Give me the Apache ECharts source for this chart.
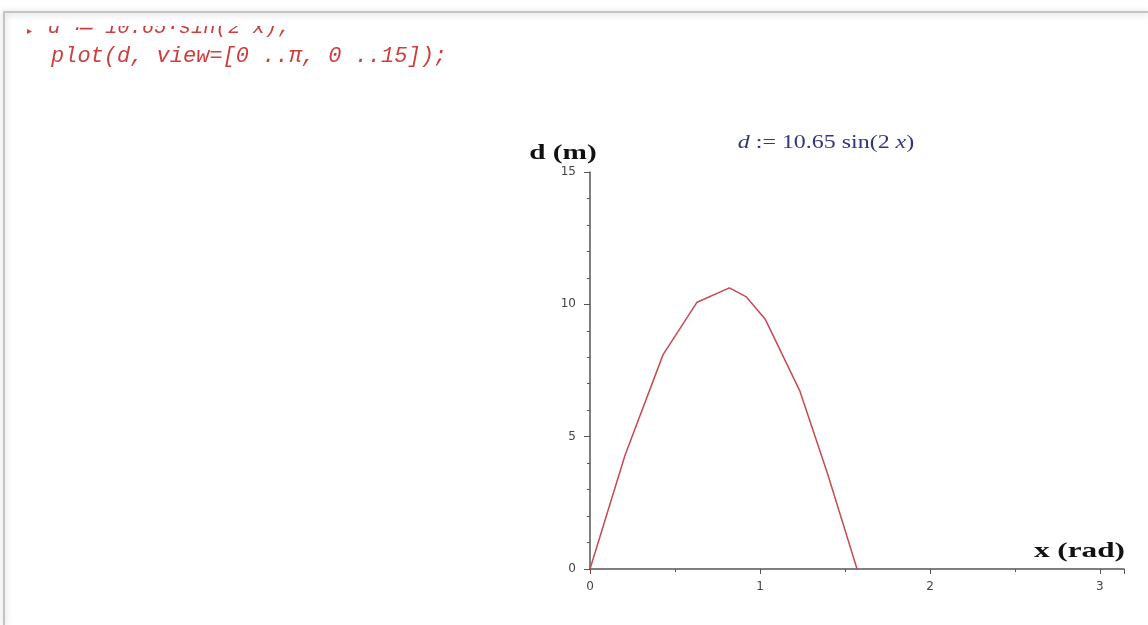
<!DOCTYPE html>
<html>
<head>
<meta charset="utf-8">
<script src="https://cdn.jsdelivr.net/npm/echarts@6/dist/echarts.min.js"></script>
<style>
  html, body { margin: 0; padding: 0; background: #ffffff; }
  #chart { width: 1148px; height: 625px; }
</style>
</head>
<body>
<div id="chart"></div>
<script>
// Sampled points of the plotted curve d(x)
const xValues = [0, 0.206, 0.43, 0.63, 0.82, 0.92, 1.03, 1.235, 1.40, 1.571];
const dValues = [0, 4.3, 8.1, 10.08, 10.62, 10.28, 9.45, 6.72, 3.55, 0];

// Worksheet input lines
const codeLine1 = 'd \u2254 10.65\u00b7sin(2 x);';
const codeLine2 = 'plot(d, view=[0 ..\u03c0, 0 ..15]);';

const xTickLabels = ['0', '1', '2', '3'];
const yTickLabels = ['0', '5', '10', '15'];

const points = xValues.map((x, i) => [x, dValues[i]]);

const chart = echarts.init(document.getElementById('chart'));

const axisColor = '#555555';
const labelStyle = { color: '#444444', fontFamily: 'DejaVu Sans', fontSize: 12 };
const codeColor = '#cc3f3f';

chart.setOption({
  animation: false,
  backgroundColor: '#ffffff',
  grid: { left: 590, right: 24, top: 172, bottom: 56, containLabel: false },
  xAxis: {
    type: 'value',
    min: 0,
    max: Math.PI,
    interval: 1,
    axisLine: { show: true, lineStyle: { color: axisColor, width: 1.5 } },
    axisTick: { show: true, inside: false, length: 5, lineStyle: { color: axisColor } },
    minorTick: { show: true, splitNumber: 2, length: 3, lineStyle: { color: axisColor } },
    splitLine: { show: false },
    axisLabel: {
      ...labelStyle,
      margin: 12,
      showMaxLabel: false,
      formatter: v => {
        const i = Math.round(v);
        return Math.abs(v - i) < 1e-9 && i < xTickLabels.length ? xTickLabels[i] : '';
      }
    }
  },
  yAxis: {
    type: 'value',
    min: 0,
    max: 15,
    interval: 5,
    axisLine: { show: true, lineStyle: { color: axisColor, width: 1.5 } },
    axisTick: { show: true, inside: false, length: 6, lineStyle: { color: axisColor } },
    minorTick: { show: true, splitNumber: 5, length: 3, lineStyle: { color: axisColor } },
    splitLine: { show: false },
    axisLabel: {
      ...labelStyle,
      margin: 14,
      formatter: v => yTickLabels[Math.round(v / 5)] || ''
    }
  },
  series: [{
    type: 'line',
    data: points,
    showSymbol: false,
    smooth: false,
    clip: false,
    lineStyle: { color: '#c64a54', width: 1.5 }
  }],
  graphic: [
    // plot title
    {
      type: 'text', x: 826, y: 143, scaleX: 1.33, z: 10,
      style: {
        text: '{i|d} := 10.65 sin(2 {i|x})',
        x: 0, y: 0, textAlign: 'center', textVerticalAlign: 'middle',
        font: '18px "Liberation Serif"', fill: '#35357f',
        rich: { i: { fontStyle: 'italic', fontFamily: 'Liberation Serif', fontSize: 18, fill: '#35357f' } }
      }
    },
    // axis titles
    {
      type: 'text', x: 563, y: 153, scaleX: 1.33, z: 10,
      style: {
        text: 'd (m)', x: 0, y: 0, textAlign: 'center', textVerticalAlign: 'middle',
        font: 'bold 22px "Liberation Serif"', fill: '#111111'
      }
    },
    {
      type: 'text', x: 1125, y: 551, scaleX: 1.42, z: 10,
      style: {
        text: 'x (rad)', x: 0, y: 0, textAlign: 'right', textVerticalAlign: 'middle',
        font: 'bold 22px "Liberation Serif"', fill: '#111111'
      }
    },
    // worksheet border with soft shadow
    {
      type: 'polyline',
      shape: { points: [[4, 625], [4, 12], [1148, 12]] },
      style: { stroke: '#c4c4c4', lineWidth: 2, fill: null, shadowBlur: 6, shadowColor: 'rgba(0,0,0,0.25)', shadowOffsetY: 1 },
      z: 10
    },
    // input prompt marker
    {
      type: 'text', left: 27, top: 26,
      style: { text: '\u25b8', fill: codeColor, font: '10px "DejaVu Sans"' },
      z: 8
    },
    {
      type: 'text', left: 48, top: 18,
      style: { text: codeLine1, fill: codeColor, font: 'italic 20.5px "Liberation Mono"' },
      z: 8
    },
    // top of the first input line is scrolled out of view
    {
      type: 'rect', shape: { x: 20, y: 14, width: 420, height: 12 },
      style: { fill: '#ffffff' }, z: 9
    },
    {
      type: 'text', left: 51, top: 45,
      style: { text: codeLine2, fill: codeColor, font: 'italic 22px "Liberation Mono"' },
      z: 8
    }
  ]
});
</script>
</body>
</html>
